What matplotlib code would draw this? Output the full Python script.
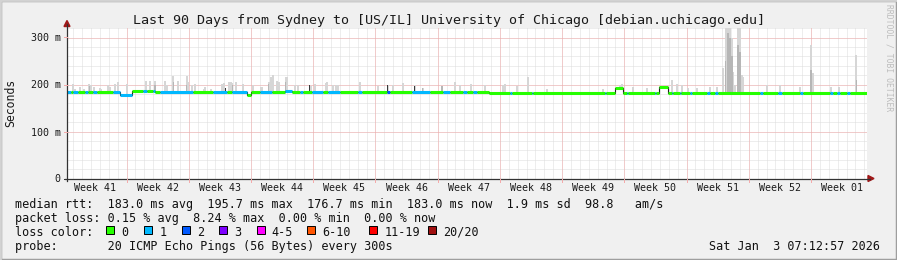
import datetime as dt
import numpy as np
import matplotlib
matplotlib.use("Agg")
import matplotlib.pyplot as plt
from matplotlib.patches import Rectangle, Polygon
from matplotlib.lines import Line2D

W, H = 897, 260

# ---------------- data (x = days since the start of the 90 day window) ----------------
end_time = dt.datetime(2026, 1, 3, 7, 12, 57)
n_days = 90

# median rtt in ms, a step holds from med_day[i] to med_day[i+1]
med_day = [0, 5.2, 6.0, 7.3, 9.9, 20.3, 20.7, 24.5, 25.3, 47.5, 61.7, 62.5, 66.6, 67.6]
med_ms = [183, 185, 178, 186, 183, 177, 183, 185.5, 183, 182, 193, 182, 194, 182.5]

# periods with lost pings (count out of 20)
loss_start = [0.0, 0.7, 2.0, 2.9, 5.2, 8.6, 9.7, 10.5, 16.4, 18.6, 21.7, 24.5, 26.2, 27.6,
              29.4, 32.7, 36.0, 38.8, 42.3, 44.6, 45.7, 49.8, 52.3, 60.5, 63.0, 66.2,
              68.1, 69.0, 70.1, 72.0, 72.9, 78.0, 80.0, 82.5, 85.8, 86.6, 87.8]
loss_end = [0.45, 1.25, 2.35, 3.35, 7.3, 9.0, 9.9, 14.2, 18.0, 20.25, 23.05, 25.3, 26.55, 28.8,
            30.7, 33.2, 36.35, 40.85, 43.1, 45.0, 46.1, 50.05, 52.45, 60.65, 63.1, 66.3,
            68.2, 69.1, 70.3, 72.35, 73.25, 78.3, 80.45, 82.8, 86.2, 86.95, 88.1]
loss_n = [1, 1, 1, 1, 1, 1, 1, 1, 1, 1, 1, 1, 1, 1,
          1, 1, 2, 1, 1, 1, 1, 1, 1, 1, 1, 1,
          1, 1, 1, 1, 1, 1, 1, 1, 1, 1, 1]

# smoke: top of the ping spread (ms) and its inner darker part (0 = none)
spike_day = [0.7, 0.9, 1.46, 1.9, 2.5, 2.66, 3.0, 3.71, 3.8, 4.65, 4.8, 5.4, 5.77, 6.75,
             8.9, 9.34, 9.9, 11.0, 11.2, 11.96, 12.5, 13.46, 13.6, 14.1, 14.4, 15.4, 15.5,
             16.2, 17.4, 17.66, 18.2, 18.4, 18.6, 19.0, 19.8, 20.9, 21.8, 21.9, 22.7, 22.9,
             23.2, 23.6, 23.8, 24.6, 24.7, 25.65, 26.0, 27.4, 27.9, 29.1, 29.2, 29.9, 30.3,
             30.5, 33.0, 35.0, 36.1, 36.7, 37.8, 39.1, 40.0, 42.2, 43.6, 44.2, 45.4, 47.0,
             49.0, 49.3, 50.6, 51.9, 54.0, 60.3, 62.2, 62.4, 63.7, 65.3, 68.1, 68.6, 69.2,
             69.9, 70.9, 72.3, 73.1, 73.8, 74.1, 74.35, 74.6, 74.8, 74.9, 75.15, 75.5, 75.7,
             75.9, 76.1, 78.7, 80.2, 82.5, 83.7, 83.9, 86.0, 86.8, 88.8]
spike_top = [201, 190, 194, 191, 202, 198, 195, 193, 191, 198, 195, 202, 205, 202,
             207, 208, 208, 208, 200, 219, 208, 219, 205, 198, 202, 191, 194,
             191, 202, 204, 205, 205, 203, 205, 202, 198, 195, 194, 205, 216,
             220, 207, 205, 216, 216, 198, 199, 197, 202, 204, 205, 200, 198,
             198, 206, 197, 198, 200, 203, 198, 193, 196, 206, 199, 202, 200,
             198, 202, 196, 217, 191, 190, 198, 201, 194, 192, 210, 201, 198,
             192, 193, 195, 195, 236, 330, 330, 330, 300, 227, 200, 330, 330,
             220, 215, 198, 200, 195, 284, 225, 195, 194, 263]
spike_core = [0, 0, 0, 0, 196, 0, 0, 0, 0, 0, 0, 0, 0, 0,
              0, 0, 200, 0, 0, 205, 0, 198, 0, 0, 0, 0, 0,
              0, 0, 0, 0, 0, 200, 0, 0, 0, 0, 0, 202, 0,
              0, 0, 0, 205, 0, 0, 0, 0, 0, 0, 0, 0, 0,
              0, 0, 0, 0, 0, 0, 196, 193, 196, 0, 0, 0, 0,
              0, 0, 0, 0, 0, 0, 0, 0, 0, 0, 0, 0, 0,
              0, 0, 0, 0, 0, 250, 310, 300, 260, 0, 0, 285, 270,
              0, 0, 0, 0, 0, 230, 0, 0, 0, 210]
dark_day = [9.9, 17.8, 27.3, 36.1, 39.1]
dark_top = [200, 192, 198, 198, 196]

week_labels = ["Week 41", "Week 42", "Week 43", "Week 44", "Week 45", "Week 46", "Week 47",
               "Week 48", "Week 49", "Week 50", "Week 51", "Week 52", "Week 01"]
y_ticks = [0, 100, 200, 300]
y_tick_labels = ["0", "100 m", "200 m", "300 m"]

rtt_stats = [183.0, 195.7, 176.7, 183.0]   # avg, max, min, now (ms)
rtt_sd = 1.9
rtt_ams = 98.8
loss_stats = [0.15, 8.24, 0.00, 0.00]      # avg, max, min, now (%)
loss_labels = ["0", "1", "2", "3", "4-5", "6-10", "11-19", "20/20"]
loss_colors = ["#26ff00", "#00b8ff", "#0059ff", "#7e00ff", "#ff00ff", "#ff5500", "#ff0000", "#a01010"]
probe_text = "20 ICMP Echo Pings (56 Bytes) every 300s"
title = "Last 90 Days from Sydney to [US/IL] University of Chicago [debian.uchicago.edu]"

# ---------------- layout helpers (pixel coords, origin top-left) ----------------
AX_L, AX_R, AX_T, AX_B = 67, 867, 28, 178.5
PX_PER_MS = 0.47
MONO = "DejaVu Sans Mono"


def fx(px):
    return px / W


def fy(py):
    return 1 - py / H


def day_px(d):
    return AX_L + d * (AX_R - AX_L) / n_days


def ms_px(v):
    return AX_B - v * PX_PER_MS


def med_at(d):
    i = np.searchsorted(med_day, d, side="right") - 1
    return np.asarray(med_ms)[i]


def loss_at(d):
    for s, e, n in zip(loss_start, loss_end, loss_n):
        if s <= d < e:
            return n
    return 0


def loss_index(n):
    if n <= 3:
        return n
    if n <= 5:
        return 4
    if n <= 10:
        return 5
    if n <= 19:
        return 6
    return 7


start_time = end_time - dt.timedelta(days=n_days)
first_midnight = (start_time + dt.timedelta(days=1)).replace(hour=0, minute=0, second=0)
midnights = []
sundays = []
t = first_midnight
while t < end_time:
    d = (t - start_time).total_seconds() / 86400
    midnights.append(d)
    if t.weekday() == 6:   # weeks start on sunday
        sundays.append(d)
    t += dt.timedelta(days=1)
label_days = [sundays[0] - 3.5] + [s + 3.5 for s in sundays]

# ---------------- figure ----------------
fig = plt.figure(figsize=(W / 100, H / 100), dpi=100, facecolor="#f0f0f0")
ax = fig.add_axes([fx(AX_L), fy(AX_B), (AX_R - AX_L) / W, (AX_B - AX_T) / H])
ax.set_facecolor("white")
ax.set_xlim(0, n_days)
ax.set_ylim(0, (AX_B - AX_T) / PX_PER_MS)
for sp in ax.spines.values():
    sp.set_visible(False)
ax.set_xticks([])
ax.set_yticks([])

# grid
dot = (0, (1, 1))
minor_c = "#dcdcdc"
major_c = "#f3aaaa"
for d in midnights:
    ax.axvline(d, color=minor_c, lw=0.72, ls=dot, zorder=0.5)
for v in range(20, 340, 20):
    ax.axhline(v, color=minor_c, lw=0.72, ls=dot, zorder=0.5)
for d in sundays:
    ax.axvline(d, color=major_c, lw=0.72, ls=dot, zorder=0.6)
for v in y_ticks[1:]:
    ax.axhline(v, color=major_c, lw=0.72, ls=dot, zorder=0.6)

# smoke
sd = np.array(spike_day)
base = med_at(sd)
ax.bar(sd, np.array(spike_top) - base, bottom=base, width=0.22, color="#d6d6d6", lw=0, zorder=1)
core = np.array(spike_core, dtype=float)
m = core > 0
ax.bar(sd[m], core[m] - base[m], bottom=base[m], width=0.14, color="#b6b6b6", lw=0, zorder=1.1)
dd = np.array(dark_day)
ax.bar(dd, np.array(dark_top) - med_at(dd), bottom=med_at(dd), width=0.1, color="#383838", lw=0, zorder=1.2)

# median, black verticals below the loss coloured pieces
ax.step(med_day + [n_days], med_ms + [med_ms[-1]], where="post", color="#202020", lw=0.8, zorder=2)
bps = sorted(set(med_day + loss_start + loss_end + [n_days]))
for a, b in zip(bps[:-1], bps[1:]):
    c = loss_colors[loss_index(loss_at(a))]
    ax.hlines(med_at(a), a, b, color=c, lw=2.2, zorder=3)

# axes lines and arrows (figure pixels)
axis_c = "#333333"
arrow_c = "#a01818"
fig.add_artist(Line2D([fx(AX_L), fx(AX_L)], [fy(AX_B + 2), fy(24)], color=axis_c, lw=0.9))
fig.add_artist(Line2D([fx(AX_L - 2), fx(870)], [fy(AX_B), fy(AX_B)], color=axis_c, lw=0.9))
fig.add_artist(Polygon([(fx(64), fy(26.5)), (fx(70), fy(26.5)), (fx(67), fy(20.5))],
                       closed=True, color=arrow_c, transform=fig.transFigure))
fig.add_artist(Polygon([(fx(868), fy(175.5)), (fx(868), fy(181.5)), (fx(874), fy(178.5))],
                       closed=True, color=arrow_c, transform=fig.transFigure))
for d in sundays:
    fig.add_artist(Line2D([fx(day_px(d)), fx(day_px(d))], [fy(AX_B), fy(AX_B + 3)],
                          color=major_c, lw=0.72))
for v in y_ticks:
    fig.add_artist(Line2D([fx(AX_L - 3), fx(AX_L)], [fy(ms_px(v)), fy(ms_px(v))],
                          color=major_c if v else axis_c, lw=0.72))

# tick labels
for d, lab in zip(label_days, week_labels):
    fig.text(fx(day_px(d)), fy(190.7), lab, ha="center", va="baseline",
             family=MONO, fontsize=7.2, color="#1a1a1a")
for v, lab in zip(y_ticks, y_tick_labels):
    fig.text(fx(60.5), fy(ms_px(v)), lab, ha="right", va="center_baseline",
             family=MONO, fontsize=7.2, color="#1a1a1a")

fig.text(fx(448.5), fy(24), title, ha="center", va="baseline", family=MONO, fontsize=9.6, color="#1a1a1a")
fig.text(fx(11), fy(102.5), "Seconds", rotation=90, ha="center", va="center",
         family=MONO, fontsize=8.3, color="#1a1a1a")
fig.text(fx(888.5), fy(4), "RRDTOOL / TOBI OETIKER", rotation=270, ha="center", va="top",
         family=MONO, fontsize=5.8, color="#bdbdbd")

# legend
line1 = "median rtt:  %.1f ms avg  %.1f ms max  %.1f ms min  %.1f ms now  %.1f ms sd  %.1f   am/s" % (
    rtt_stats[0], rtt_stats[1], rtt_stats[2], rtt_stats[3], rtt_sd, rtt_ams)
line2 = "packet loss: %.2f %% avg  %.2f %% max  %.2f %% min  %.2f %% now" % tuple(loss_stats)
leg_kw = dict(family=MONO, fontsize=8.5, color="#111111", va="baseline")
fig.text(fx(15), fy(208), line1, **leg_kw)
fig.text(fx(15), fy(222.3), line2, **leg_kw)
fig.text(fx(15), fy(235.7), "loss color:", **leg_kw)
fig.text(fx(15), fy(250), "probe:       " + probe_text, **leg_kw)
stamp = end_time.strftime("%a %b ") + "%2d" % end_time.day + end_time.strftime(" %H:%M:%S %Y")
fig.text(fx(880), fy(250), stamp, ha="right", **leg_kw)

box_x = [106, 144.3, 181.7, 219.3, 256.7, 307.3, 369.3, 428.3]
for bx, lab, c in zip(box_x, loss_labels, loss_colors):
    fig.add_artist(Rectangle((fx(bx), fy(233.5)), 8 / W, 8 / H, transform=fig.transFigure,
                             facecolor=c, edgecolor="black", lw=0.7))
    fig.text(fx(bx + 15), fy(235.7), lab, **leg_kw)

# outer frame
fig.add_artist(Rectangle((0, 0), 1, 1, transform=fig.transFigure, fill=False, edgecolor="#9e9e9e", lw=2.5))
fig.add_artist(Line2D([0, 0], [0, 1], color="#d2d2d2", lw=2))
fig.add_artist(Line2D([0, 1], [1, 1], color="#d2d2d2", lw=2))

fig.savefig("out.png", dpi=100, facecolor=fig.get_facecolor())
